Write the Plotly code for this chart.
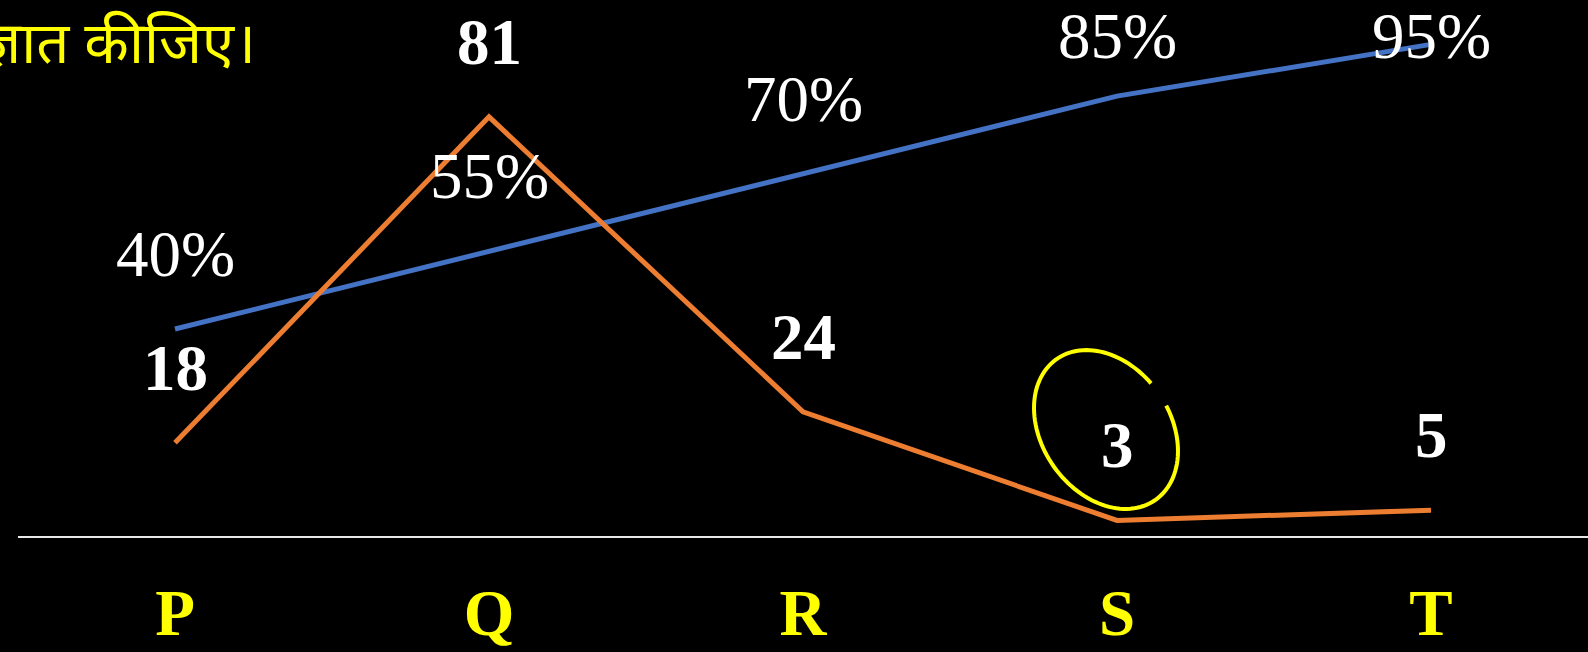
import numpy as np
import plotly.graph_objects as go

categories = ["P", "Q", "R", "S", "T"]
counts = [18, 81, 24, 3, 5]
percents = [40, 55, 70, 85, 95]
count_labels = ["18", "81", "24", "3", "5"]
percent_labels = ["40%", "55%", "70%", "85%", "95%"]
title_text = "ज्ञात कीजिए।"

ORANGE = "#ED7D31"
BLUE = "#4472C4"
YELLOW = "#FFFF00"

W, H = 1588, 652
ML, MR, MT, MB = 18, 0, 0, 116
plot_w = W - ML - MR
plot_h = H - MT - MB
px_per_unit = 5.175
y_top = plot_h / px_per_unit
label_offset = 14.5
label_cap = (plot_h - 36) / px_per_unit

fig = go.Figure()
fig.add_trace(go.Scatter(x=categories, y=percents, mode="lines",
                         line=dict(color=BLUE, width=5), hoverinfo="skip"))
fig.add_trace(go.Scatter(x=categories, y=counts, mode="lines",
                         line=dict(color=ORANGE, width=5), hoverinfo="skip"))

serif = "Liberation Serif, Times New Roman, serif"
for c, v, t in zip(categories, counts, count_labels):
    fig.add_annotation(x=c, y=min(v + label_offset, label_cap), text=f"<b>{t}</b>",
                       showarrow=False, xanchor="center", yanchor="middle",
                       font=dict(family=serif, size=65, color="white"))
for c, v, t in zip(categories, percents, percent_labels):
    fig.add_annotation(x=c, y=min(v + label_offset, label_cap), text=t,
                       showarrow=False, xanchor="center", yanchor="middle",
                       font=dict(family=serif, size=65, color="white"))

# title fragment (partly off the left edge)
fig.add_annotation(xref="paper", yref="paper", x=(258 - ML) / plot_w, y=(plot_h - 40) / plot_h,
                   text=title_text, showarrow=False, xanchor="right", yanchor="middle",
                   font=dict(family="Noto Sans, sans-serif", size=58, color=YELLOW))

# hand-drawn yellow ellipse around the "3" label
cx, cy, a, b, th = 1106, 429.5, 86, 64, np.deg2rad(55)
ts = np.deg2rad(np.linspace(280, 622, 120))
ex = cx + a * np.cos(ts) * np.cos(th) - b * np.sin(ts) * np.sin(th)
ey = cy + a * np.cos(ts) * np.sin(th) + b * np.sin(ts) * np.cos(th)
px = (ex - ML) / plot_w
py = (MT + plot_h - ey) / plot_h
path = "M " + " L ".join(f"{x:.5f},{y:.5f}" for x, y in zip(px, py))
fig.add_shape(type="path", path=path, xref="paper", yref="paper",
              line=dict(color=YELLOW, width=4))

fig.update_layout(
    width=W, height=H,
    margin=dict(l=ML, r=MR, t=MT, b=MB, autoexpand=False),
    paper_bgcolor="black", plot_bgcolor="black",
    showlegend=False,
    xaxis=dict(type="category", range=[-0.5, 4.5], showgrid=False, zeroline=False,
               automargin=False,
               showline=True, linecolor="#e8e8e8", linewidth=2,
               ticks="", ticklabelstandoff=19,
               tickfont=dict(family=serif, size=65, color=YELLOW, weight="bold")),
    yaxis=dict(range=[0, y_top], visible=False, showgrid=False, zeroline=False,
               automargin=False),
)

fig.write_html("out.html")
